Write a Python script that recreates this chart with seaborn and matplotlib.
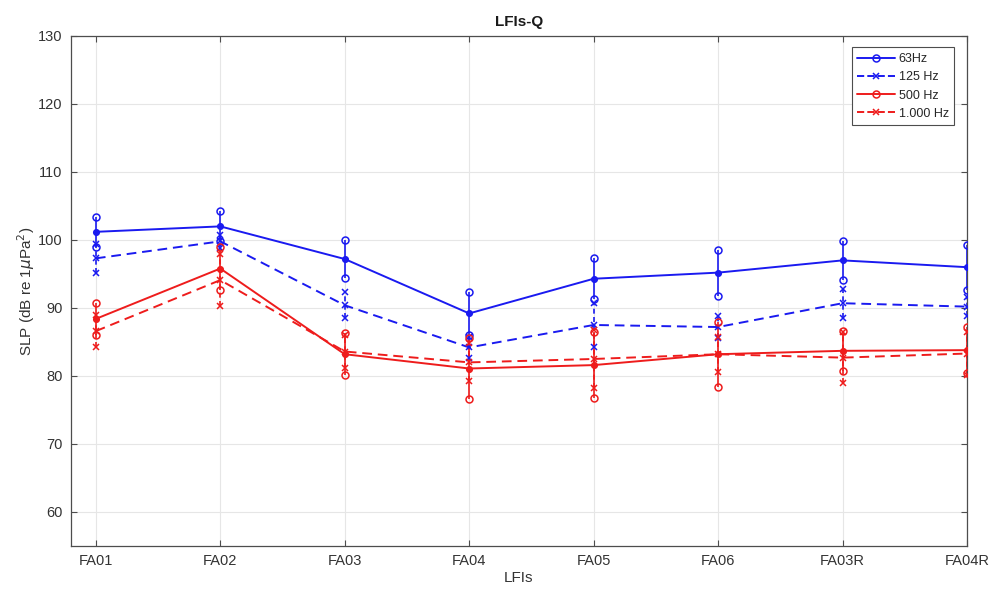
import numpy as np
import pandas as pd
import matplotlib
matplotlib.use("Agg")
import matplotlib.pyplot as plt
from matplotlib.lines import Line2D
import seaborn as sns

# Measurement sites (x categories)
sites = ["FA01", "FA02", "FA03", "FA04", "FA05", "FA06", "FA03R", "FA04R"]

# Mean sound pressure level per band (dB re 1 uPa^2)
slp_63 = [101.2, 102.0, 97.2, 89.2, 94.3, 95.2, 97.0, 96.0]
slp_125 = [97.3, 99.8, 90.4, 84.2, 87.5, 87.2, 90.7, 90.2]
slp_500 = [88.4, 95.8, 83.2, 81.1, 81.6, 83.2, 83.7, 83.8]
slp_1000 = [86.6, 94.1, 83.6, 82.0, 82.5, 83.2, 82.7, 83.3]

# Half-width of the error bars per band
err_63 = [2.2, 2.2, 2.8, 3.2, 3.0, 3.4, 2.9, 3.3]
err_125 = [2.1, 1.0, 1.9, 1.6, 3.2, 1.6, 2.1, 1.4]
err_500 = [2.3, 3.2, 3.1, 4.5, 4.8, 4.8, 2.9, 3.4]
err_1000 = [2.4, 3.8, 2.4, 2.8, 4.2, 2.6, 3.8, 3.2]

labels = ["63Hz", "125 Hz", "500 Hz", "1.000 Hz"]

BLUE = "#1a1af0"
RED = "#ee1c1c"

bands = [
    (labels[0], slp_63, err_63, BLUE, "-", "o"),
    (labels[1], slp_125, err_125, BLUE, "--", "x"),
    (labels[2], slp_500, err_500, RED, "-", "o"),
    (labels[3], slp_1000, err_1000, RED, "--", "x"),
]

pos = np.arange(len(sites))
df = pd.concat(
    [pd.DataFrame({"pos": pos, "site": sites, "SLP": vals, "band": name})
     for name, vals, _, _, _, _ in bands],
    ignore_index=True,
)

sns.set_theme(style="whitegrid")
plt.rcParams["font.family"] = ["Liberation Sans", "DejaVu Sans"]

fig = plt.figure(figsize=(9.94, 5.93), dpi=100)
ax = fig.add_axes([0.0714, 0.0793, 0.9014, 0.86])

palette = {b[0]: b[3] for b in bands}
dashes = {b[0]: ("" if b[4] == "-" else (5, 3)) for b in bands}
sns.lineplot(data=df, x="pos", y="SLP", hue="band", style="band",
             palette=palette, dashes=dashes, markers=False, linewidth=1.4,
             legend=False, ax=ax, zorder=3)

for name, vals, errs, color, ls, mk in bands:
    vals = np.asarray(vals)
    errs = np.asarray(errs)
    eb = ax.errorbar(pos, vals, yerr=errs, fmt="none", ecolor=color,
                     elinewidth=1.2, capsize=0, zorder=3)
    if ls == "--":
        eb[2][0].set_linestyle((0, (3, 2)))
    # markers at the ends of each error bar and at the mean
    ax.plot(pos, vals + errs, ls="none", marker=mk, ms=5, mfc="none",
            mec=color, mew=1.1, zorder=4)
    ax.plot(pos, vals - errs, ls="none", marker=mk, ms=5, mfc="none",
            mec=color, mew=1.1, zorder=4)
    ax.plot(pos, vals, ls="none", marker=mk, ms=4, mfc=color,
            mec=color, mew=1.1, zorder=4)

ax.set_xlim(-0.2, 7)
ax.set_ylim(55, 130)
ax.set_xticks(pos)
ax.set_xticklabels(sites)
ax.set_yticks(np.arange(60, 131, 10))

ax.grid(True, color="#e6e6e6", linewidth=0.8)
for sp in ax.spines.values():
    sp.set_visible(True)
    sp.set_color("#4d4d4d")
    sp.set_linewidth(0.9)
ax.tick_params(axis="both", direction="in", length=4, width=0.8,
               colors="#4d4d4d", labelsize=10.5, labelcolor="#333333",
               top=True, right=True, bottom=True, left=True, pad=6)

ax.set_xlabel("LFIs", fontsize=11, color="#333333", labelpad=2)
ax.set_ylabel(r"SLP (dB re 1$\mu$Pa$^2$)", fontsize=11, color="#333333",
              labelpad=1)
ax.set_title("LFIs-Q", fontsize=11, fontweight="bold", color="#1a1a1a", pad=7)

handles = [
    Line2D([0], [0], color=c, ls=ls, lw=1.4, marker=mk, ms=5,
           mfc="none" if mk == "o" else c, mec=c, mew=1.1)
    for _, _, _, c, ls, mk in bands
]
leg = ax.legend(handles, labels, loc="upper right", fontsize=9,
                bbox_to_anchor=(0.99, 0.985), frameon=True, fancybox=False,
                edgecolor="#4d4d4d", framealpha=1, handlelength=3.0,
                borderpad=0.45, labelspacing=0.5, handletextpad=0.3,
                borderaxespad=0.3, numpoints=1)
leg.get_frame().set_linewidth(0.8)

fig.savefig("out.png", dpi=100)
